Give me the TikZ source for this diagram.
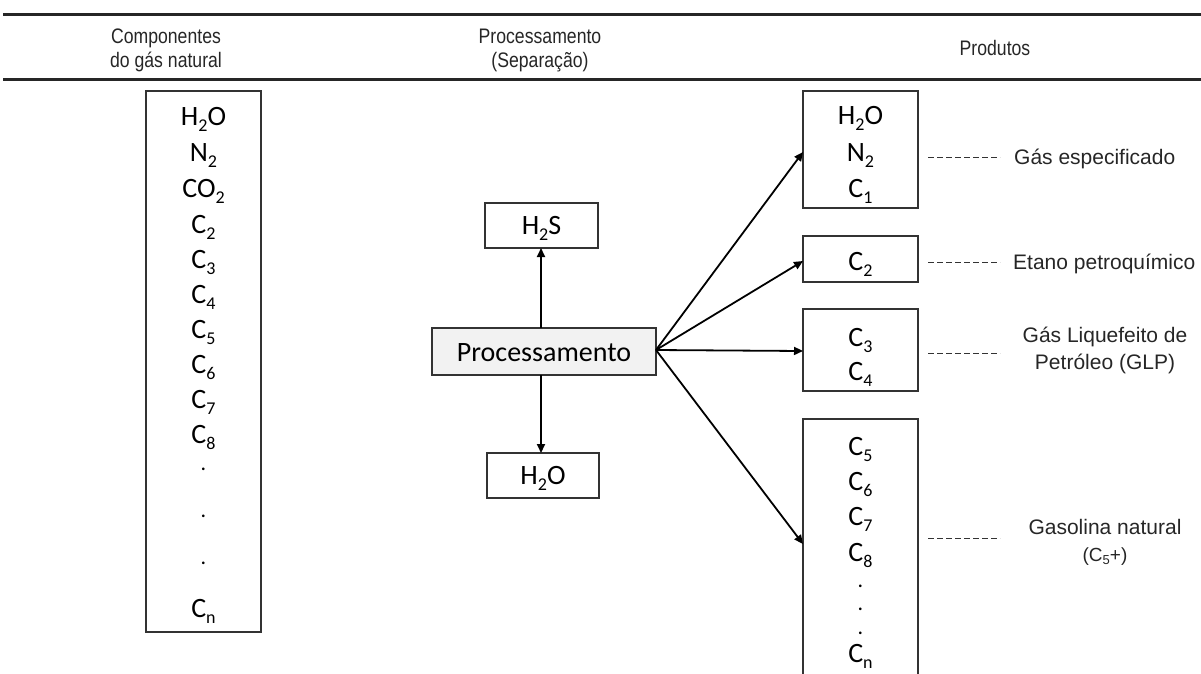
\documentclass[tikz,border=0pt]{standalone}
\usepackage{fontspec}
\setmainfont{Carlito}
\newfontfamily\labfont{Liberation Sans}
\newfontfamily\headfont[FakeStretch=0.84]{Liberation Sans}
\usetikzlibrary{arrows.meta}
\newcommand\sbs[1]{\raisebox{-0.22em}{\fontsize{18}{18}\selectfont #1}}
\newcommand\sbsm[1]{\raisebox{-0.2em}{\fontsize{13}{13}\selectfont #1}}
\begin{document}
\begin{tikzpicture}[x=1pt,y=-1pt,
  rule/.style={line width=3pt, draw=black!85},
  box/.style={draw=black!80, line width=1.4pt, inner sep=0pt},
  item/.style={font=\fontsize{28}{28}\selectfont, inner sep=0pt, anchor=base},
  dotitem/.style={font=\fontsize{22}{22}\selectfont, inner sep=0pt, anchor=base},
  head/.style={font=\headfont\fontsize{21}{21}\selectfont, inner sep=0pt, anchor=base, text=black!85},
  lab/.style={font=\labfont\fontsize{21}{21}\selectfont, inner sep=0pt, anchor=base, text=black!85},
  flow/.style={line width=1.8pt, -{Triangle[length=9pt,width=8pt]}},
  dashline/.style={line width=1pt, dash pattern=on 6pt off 3pt, draw=black!80}]
\useasboundingbox (0,0) rectangle (1201,673);
% header rules
\coordinate (r1a) at (3,14); \coordinate (r1b) at (1201,14);
\coordinate (r2a) at (3,79); \coordinate (r2b) at (1201,79);
\draw[rule] (r1a) -- (r1b);
\draw[rule] (r2a) -- (r2b);
% headers
\node[head] (h1a) at (166,43) {Componentes};
\node[head] (h1b) at (166,67) {do gás natural};
\node[head] (h2a) at (540,43) {Processamento};
\node[head] (h2b) at (540,67) {(Separação)};
\node[head] (h3) at (995,55) {Produtos};
% left box
\node[box, minimum width=115pt, minimum height=541pt] (L) at (203.5,361.5) {};
\node[item] (l1) at (203.5,125) {H\sbs{2}O};
\node[item] (l2) at (203.5,161) {N\sbs{2}};
\node[item] (l3) at (203.5,197) {CO\sbs{2}};
\node[item] (l4) at (203.5,233) {C\sbs{2}};
\node[item] (l5) at (203.5,268) {C\sbs{3}};
\node[item] (l6) at (203.5,303) {C\sbs{4}};
\node[item] (l7) at (203.5,338) {C\sbs{5}};
\node[item] (l8) at (203.5,373) {C\sbs{6}};
\node[item] (l9) at (203.5,408) {C\sbs{7}};
\node[item] (l10) at (203.5,443.5) {C\sbs{8}};
\node[dotitem] (l11) at (203.5,470.5) {.};
\node[dotitem] (l12) at (203.5,517.5) {.};
\node[dotitem] (l13) at (203.5,564.5) {.};
\node[item] (l14) at (203.5,617) {C\sbs{n}};
% middle
\node[box, minimum width=113pt, minimum height=45pt] (hs) at (541.5,225.5) {};
\node[item] (hst) at (541.5,234) {H\sbs{2}S};
\node[box, fill=black!5, minimum width=224pt, minimum height=47pt] (P) at (544,351.5) {};
\node[item] (Pt) at (544,361) {Processamento};
\node[box, minimum width=112pt, minimum height=45pt] (hw) at (543,475.5) {};
\node[item] (hwt) at (543,484) {H\sbs{2}O};
\coordinate (pup) at (541,328); \coordinate (hsb) at (541,248);
\coordinate (pdn) at (541,375); \coordinate (hwb) at (541,453);
\draw[flow] (pup) -- (hsb);
\draw[flow] (pdn) -- (hwb);
% right boxes
\node[box, minimum width=115pt, minimum height=117pt] (R1) at (860.5,149.5) {};
\node[item] (r1i1) at (860.5,124) {H\sbs{2}O};
\node[item] (r1i2) at (860.5,161) {N\sbs{2}};
\node[item] (r1i3) at (860.5,197) {C\sbs{1}};
\node[box, minimum width=115pt, minimum height=46pt] (R2) at (860.5,259) {};
\node[item] (r2i1) at (860.5,270) {C\sbs{2}};
\node[box, minimum width=115pt, minimum height=82pt] (R3) at (860.5,350) {};
\node[item] (r3i1) at (860.5,346) {C\sbs{3}};
\node[item] (r3i2) at (860.5,380) {C\sbs{4}};
\coordinate (R4nw) at (803,419); \coordinate (R4ne) at (918,419);
\coordinate (R4sw) at (803,690); \coordinate (R4se) at (918,690);
\draw[draw=black!80, line width=1.4pt] (R4sw) -- (R4nw) -- (R4ne) -- (R4se);
\node[item] (r4i1) at (860.5,455) {C\sbs{5}};
\node[item] (r4i2) at (860.5,490) {C\sbs{6}};
\node[item] (r4i3) at (860.5,525) {C\sbs{7}};
\node[item] (r4i4) at (860.5,561) {C\sbs{8}};
\node[dotitem] (r4i5) at (860.5,587.5) {.};
\node[dotitem] (r4i6) at (860.5,610.5) {.};
\node[dotitem] (r4i7) at (860.5,634.5) {.};
\node[item] (r4i8) at (860.5,662) {C\sbs{n}};
% arrows from processing
\coordinate (po) at (656,350);
\coordinate (t1) at (803,152);
\coordinate (t2) at (803,261);
\coordinate (t3) at (803,351);
\coordinate (t4) at (803,544);
\draw[flow] (po) -- (t1);
\draw[flow] (po) -- (t2);
\draw[flow] (po) -- (t3);
\draw[flow] (po) -- (t4);
% dashed leaders
\coordinate (d1a) at (928,157); \coordinate (d1b) at (1000,157);
\coordinate (d2a) at (928,262); \coordinate (d2b) at (1000,262);
\coordinate (d3a) at (928,353); \coordinate (d3b) at (1000,353);
\coordinate (d4a) at (928,538); \coordinate (d4b) at (1000,538);
\draw[dashline] (d1a) -- (d1b);
\draw[dashline] (d2a) -- (d2b);
\draw[dashline] (d3a) -- (d3b);
\draw[dashline] (d4a) -- (d4b);
% labels
\node[lab, anchor=base west] (g1) at (1014,164.5) {Gás especificado};
\node[lab, anchor=base west] (g2) at (1013,269.5) {Etano petroquímico};
\node[lab] (g3a) at (1105,342.5) {Gás Liquefeito de};
\node[lab] (g3b) at (1105,369.5) {Petróleo (GLP)};
\node[lab] (g4a) at (1105,534.5) {Gasolina natural};
\node[lab, font=\labfont\fontsize{19}{19}\selectfont] (g4b) at (1105,561) {(C\sbsm{5}+)};
\end{tikzpicture}
\end{document}
